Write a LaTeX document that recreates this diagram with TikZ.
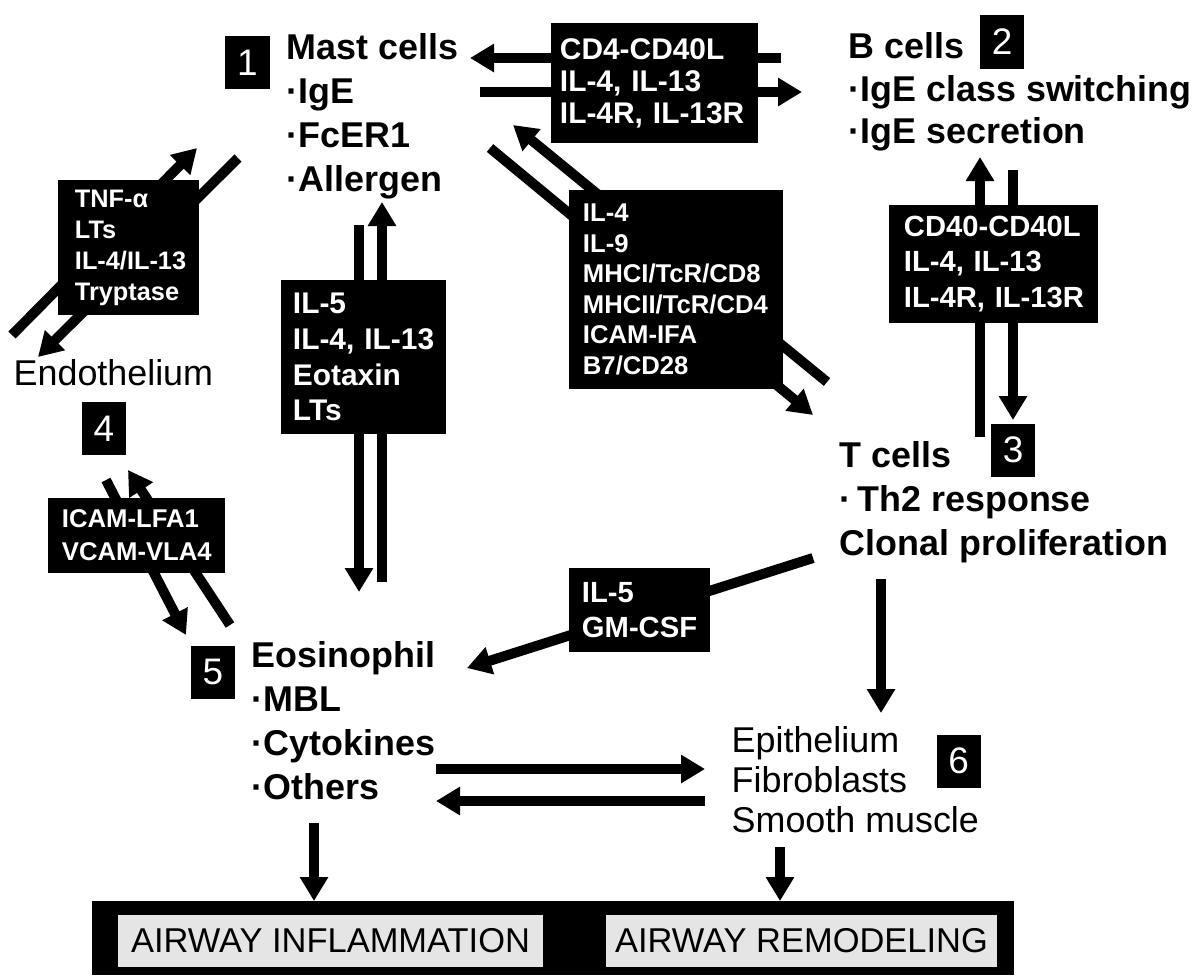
\documentclass[tikz,border=0pt]{standalone}
\usepackage{fontspec}
\setmainfont{Liberation Sans}
\usetikzlibrary{arrows.meta}
\exhyphenpenalty=10000
\hyphenpenalty=10000

\tikzset{
  cell/.style={font=\bfseries\fontsize{10.2}{12.5}\selectfont, align=left, inner sep=0pt, anchor=north west},
  tissue/.style={font=\fontsize{10.2}{11.4}\selectfont, align=left, inner sep=0pt},
  numbox/.style={fill=black, text=white, minimum width=0.44cm, minimum height=0.53cm, inner sep=0pt, font=\fontsize{10.5}{12}\selectfont},
  cyto/.style={fill=black, text=white, align=left, inner sep=0pt},
  flow/.style={line width=0.1cm, -{Triangle[length=0.24cm, width=0.27cm]}},
  outcome/.style={fill=black!10, minimum height=0.52cm, inner sep=0pt, font=\fontsize{9.8}{11}\selectfont}
}

\begin{document}
\begin{tikzpicture}[x=0.01cm, y=-0.01cm]
  \useasboundingbox (0,0) rectangle (1204,975);

  % arrow ends
  \coordinate (b2m-s) at (781,58);   \coordinate (b2m-e) at (470,58);
  \coordinate (m2b-s) at (480,92);   \coordinate (m2b-e) at (802,92);
  \coordinate (t2m-s) at (827,382);  \coordinate (t2m-e) at (513,125);
  \coordinate (m2t-s) at (490,148);  \coordinate (m2t-e) at (813,415);
  \coordinate (en2m-s) at (12,335);  \coordinate (en2m-e) at (197,148);
  \coordinate (m2en-s) at (238,158); \coordinate (m2en-e) at (38,357);
  \coordinate (m2eo-s) at (359,225); \coordinate (m2eo-e) at (359,592);
  \coordinate (eo2m-s) at (382,582); \coordinate (eo2m-e) at (382,202);
  \coordinate (t2b-s) at (980,437);  \coordinate (t2b-e) at (980,157);
  \coordinate (b2t-s) at (1013,170); \coordinate (b2t-e) at (1013,420);
  \coordinate (en2eo-s) at (106,480); \coordinate (en2eo-e) at (186,635);
  \coordinate (eo2en-s) at (230,625); \coordinate (eo2en-e) at (128,470);
  \coordinate (t2eo-s) at (813,558); \coordinate (t2eo-e) at (467,668);
  \coordinate (eo2ep-s) at (436,769); \coordinate (eo2ep-e) at (705,769);
  \coordinate (ep2eo-s) at (705,801); \coordinate (ep2eo-e) at (436,801);
  \coordinate (t2ep-s) at (881,579); \coordinate (t2ep-e) at (881,713);
  \coordinate (eo2in-s) at (314,823); \coordinate (eo2in-e) at (314,901);
  \coordinate (ep2re-s) at (780,847); \coordinate (ep2re-e) at (780,901);

  % arrows (under the boxes)
  \draw[flow] (b2m-s) -- (b2m-e);
  \draw[flow] (m2b-s) -- (m2b-e);
  \draw[flow] (t2m-s) -- (t2m-e);
  \draw[flow] (m2t-s) -- (m2t-e);
  \draw[flow] (en2m-s) -- (en2m-e);
  \draw[flow] (m2en-s) -- (m2en-e);
  \draw[flow] (m2eo-s) -- (m2eo-e);
  \draw[flow] (eo2m-s) -- (eo2m-e);
  \draw[flow] (t2b-s) -- (t2b-e);
  \draw[flow] (b2t-s) -- (b2t-e);
  \draw[flow] (en2eo-s) -- (en2eo-e);
  \draw[flow] (eo2en-s) -- (eo2en-e);
  \draw[flow] (t2eo-s) -- (t2eo-e);
  \draw[flow] (eo2ep-s) -- (eo2ep-e);
  \draw[flow] (ep2eo-s) -- (ep2eo-e);
  \draw[flow] (t2ep-s) -- (t2ep-e);
  \draw[flow] (eo2in-s) -- (eo2in-e);
  \draw[flow] (ep2re-s) -- (ep2re-e);

  % cells
  \node[cell] (mast) at (286,33) {Mast cells\\·IgE\\·FcER1\\·Allergen};
  \node[cell, font=\bfseries\fontsize{10.2}{12.1}\selectfont] (bcell) at (848,32) {B cells\\·IgE class switching\\·IgE secretion};
  \node[cell] (tcell) at (839,441) {T cells\\·\,Th2 response\\Clonal proliferation};
  \node[cell] (eos) at (251,641) {Eosinophil\\·MBL\\·Cytokines\\·Others};
  \node[tissue, anchor=west] (endo) at (13,373) {Endothelium};
  \node[tissue, anchor=north west] (epi) at (731,726) {Epithelium\\Fibroblasts\\Smooth muscle};

  % numbers
  \node[numbox] (n1) at (247.5,62.5) {1};
  \node[numbox] (n2) at (1002,42) {2};
  \node[numbox] (n3) at (1013,450) {3};
  \node[numbox] (n4) at (104,428.5) {4};
  \node[numbox] (n5) at (213,672) {5};
  \node[numbox] (n6) at (958.5,761) {6};

  % mediators
  \node[cyto, minimum width=2.07cm, minimum height=1.20cm, text width=1.89cm,
    font=\bfseries\fontsize{8.5}{9.1}\selectfont] (mbbox) at (654.5,83)
    {CD4-CD40L\\IL-4,~IL-13\\IL-4R,~IL-13R};
  \node[cyto, minimum width=2.14cm, minimum height=1.99cm, text width=1.86cm,
    font=\bfseries\fontsize{7.3}{8.7}\selectfont] (mtbox) at (676,289.5)
    {IL-4\\IL-9\\MHCI/TcR/CD8\\MHCII/TcR/CD4\\ICAM-IFA\\B7/CD28};
  \node[cyto, minimum width=2.09cm, minimum height=1.18cm, text width=1.79cm,
    font=\bfseries\fontsize{8.3}{10}\selectfont] (btbox) at (993.5,264)
    {CD40-CD40L\\IL-4,~IL-13\\IL-4R,~IL-13R};
  \node[cyto, minimum width=1.41cm, minimum height=1.35cm, text width=1.07cm,
    font=\bfseries\fontsize{7.2}{8.8}\selectfont] (enbox) at (128.5,247.5)
    {TNF-α\\LTs\\IL-4/IL-13\\Tryptase};
  \node[cyto, minimum width=1.65cm, minimum height=1.54cm, text width=1.41cm,
    font=\bfseries\fontsize{8.5}{10.2}\selectfont] (eobox) at (363.5,357)
    {IL-5\\IL-4,~IL-13\\Eotaxin\\LTs};
  \node[cyto, minimum width=1.77cm, minimum height=0.75cm, text width=1.49cm,
    font=\bfseries\fontsize{7.3}{9.4}\selectfont] (adbox) at (136.5,535.5)
    {ICAM-LFA1\\VCAM-VLA4};
  \node[cyto, minimum width=1.41cm, minimum height=0.84cm, text width=1.15cm,
    font=\bfseries\fontsize{8.3}{10}\selectfont] (gmbox) at (639.5,610)
    {IL-5\\GM-CSF};

  % outcomes
  \node[fill=black, minimum width=9.22cm, minimum height=0.74cm, inner sep=0pt] (bar) at (553,938) {};
  \node[outcome, minimum width=4.25cm] (infl) at (330.5,941) {AIRWAY INFLAMMATION};
  \node[outcome, minimum width=3.91cm] (remod) at (801.5,941) {AIRWAY REMODELING};
\end{tikzpicture}
\end{document}
